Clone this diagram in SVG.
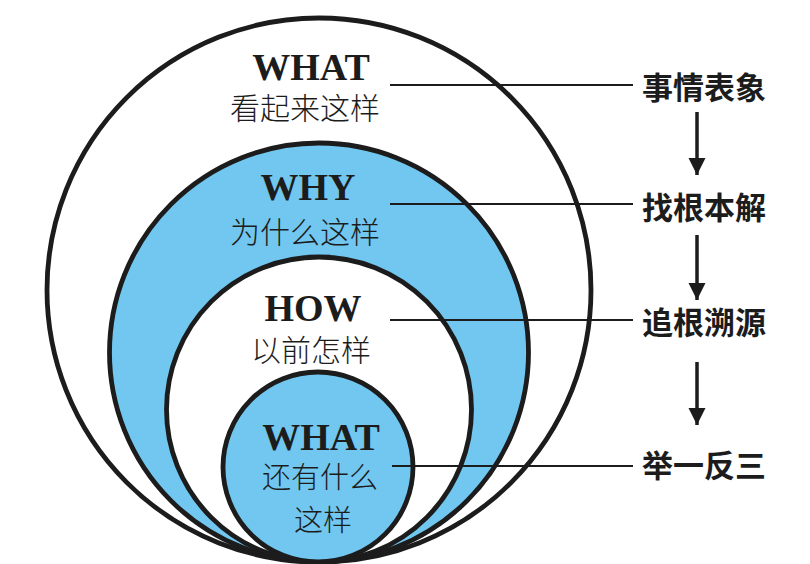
<svg xmlns="http://www.w3.org/2000/svg" width="810" height="564" viewBox="0 0 810 564">
<defs>
<style>
.ring{stroke:#1c1c1c;stroke-width:4.8}
.white{fill:#ffffff}
.cyan{fill:#71C7EF}
.en{font-family:"Liberation Serif","Times New Roman",serif;font-weight:bold;font-size:38px;fill:#1c1c1c;text-anchor:middle}
.cn{font-family:"Noto Sans CJK SC","Noto Sans CJK TC",sans-serif;font-size:30px;fill:#1c1c1c;text-anchor:middle;font-weight:300}
.cs{font-size:29px}
.lab{font-family:"Noto Sans CJK SC","Noto Sans CJK TC",sans-serif;font-size:31px;fill:#1c1c1c;text-anchor:middle;font-weight:bold}
.conn{stroke:#1c1c1c;stroke-width:2;fill:none}
.arr{stroke:#1c1c1c;stroke-width:3.5;fill:none}
</style>
<marker id="ah" viewBox="0 0 10 10" refX="10" refY="5" markerWidth="5" markerHeight="5" markerUnits="strokeWidth" orient="auto">
<path d="M0,0 L10,5 L0,10 Z" fill="#1c1c1c"/>
</marker>
</defs>
<rect width="810" height="564" fill="#ffffff"/>
<g id="what-outer">
<circle class="ring white" cx="319" cy="290" r="272"/>
<text class="en" x="311" y="80">WHAT</text>
<text class="cn" x="305" y="119">看起来这样</text>
</g>
<g id="why">
<circle class="ring cyan" cx="319" cy="352.5" r="209.5"/>
<text class="en" x="308" y="200">WHY</text>
<text class="cn" x="305" y="243">为什么这样</text>
</g>
<g id="how">
<circle class="ring white" cx="319" cy="409.5" r="152.5"/>
<text class="en" x="313" y="321">HOW</text>
<text class="cn" x="311" y="361">以前怎样</text>
</g>
<g id="what-inner">
<circle class="ring cyan" cx="318" cy="467" r="95"/>
<text class="en" x="321" y="450">WHAT</text>
<text class="cn cs" x="320" y="488">还有什么</text>
<text class="cn cs" x="323" y="531">这样</text>
</g>
<g id="label-1"><text class="lab" x="704" y="99">事情表象</text></g>
<g id="label-2"><text class="lab" x="704" y="219">找根本解</text></g>
<g id="label-3"><text class="lab" x="704" y="334">追根溯源</text></g>
<g id="label-4"><text class="lab" x="704" y="477">举一反三</text></g>
<g id="connectors">
<line class="conn" x1="390" y1="85" x2="633" y2="85"/>
<line class="conn" x1="390" y1="204" x2="633" y2="204"/>
<line class="conn" x1="390" y1="320" x2="633" y2="320"/>
<line class="conn" x1="392" y1="466" x2="633" y2="466"/>
<line class="arr" x1="697" y1="112" x2="697" y2="175" marker-end="url(#ah)"/>
<line class="arr" x1="697" y1="235" x2="697" y2="300" marker-end="url(#ah)"/>
<line class="arr" x1="697" y1="362" x2="697" y2="425" marker-end="url(#ah)"/>
</g>
</svg>
